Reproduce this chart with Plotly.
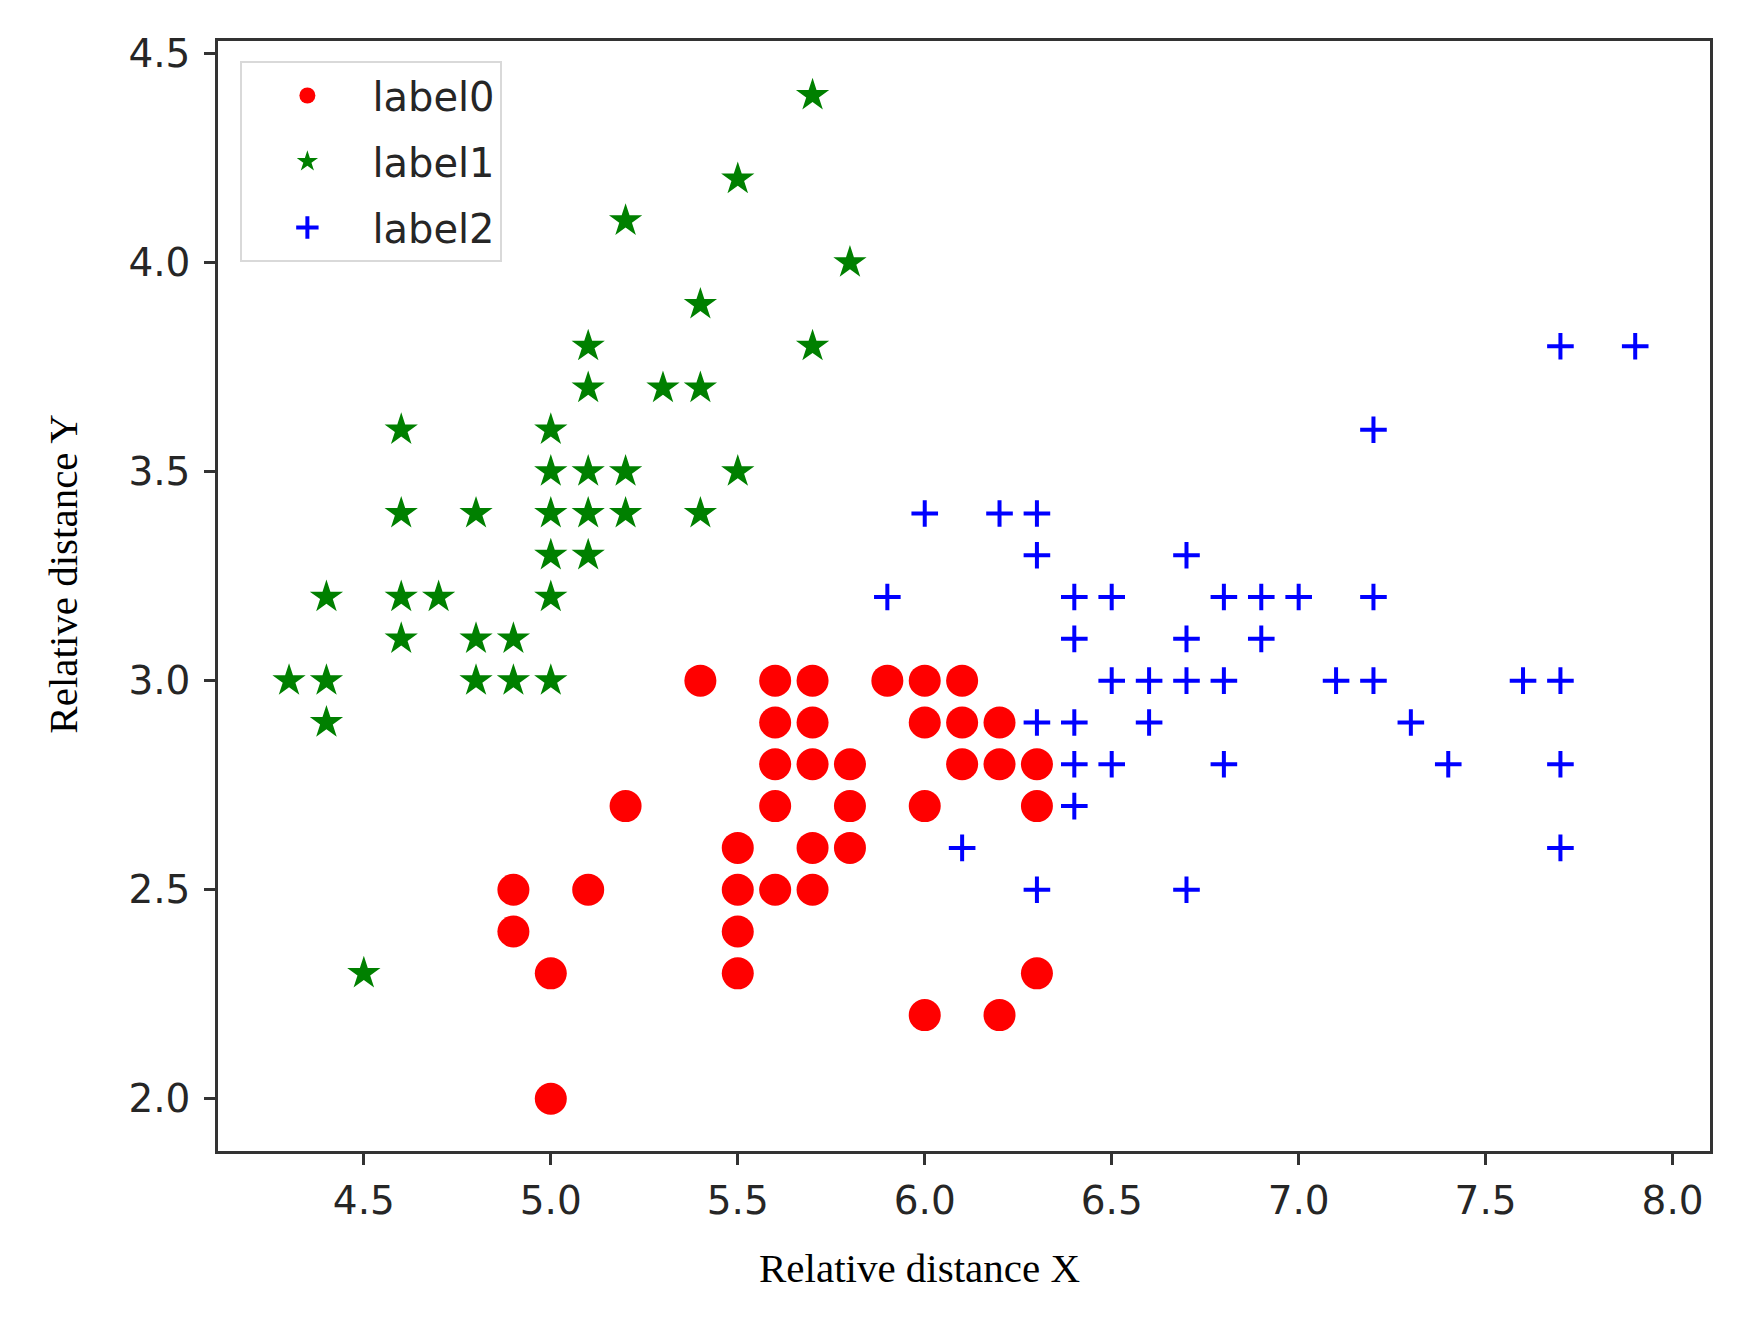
import plotly.graph_objects as go

# label0 (red circles)
x0 = [5.4, 5.6, 5.7, 5.9, 6.0, 6.1,
      5.6, 5.7, 6.0, 6.1, 6.2,
      5.6, 5.7, 5.8, 6.1, 6.2, 6.3,
      5.2, 5.6, 5.8, 6.0, 6.3,
      5.5, 5.7, 5.8,
      4.9, 5.1, 5.5, 5.6, 5.7,
      4.9, 5.5,
      5.0, 5.5, 6.3,
      6.0, 6.2,
      5.0]
y0 = [3.0, 3.0, 3.0, 3.0, 3.0, 3.0,
      2.9, 2.9, 2.9, 2.9, 2.9,
      2.8, 2.8, 2.8, 2.8, 2.8, 2.8,
      2.7, 2.7, 2.7, 2.7, 2.7,
      2.6, 2.6, 2.6,
      2.5, 2.5, 2.5, 2.5, 2.5,
      2.4, 2.4,
      2.3, 2.3, 2.3,
      2.2, 2.2,
      2.0]

# label1 (green stars)
x1 = [5.7, 5.5, 5.2, 5.8, 5.4,
      5.1, 5.7,
      5.1, 5.3, 5.4,
      4.6, 5.0,
      5.0, 5.1, 5.2, 5.5,
      4.6, 4.8, 5.0, 5.1, 5.2, 5.4,
      5.0, 5.1,
      4.4, 4.6, 4.7, 5.0,
      4.6, 4.8, 4.9,
      4.3, 4.4, 4.8, 4.9, 5.0,
      4.4,
      4.5]
y1 = [4.4, 4.2, 4.1, 4.0, 3.9,
      3.8, 3.8,
      3.7, 3.7, 3.7,
      3.6, 3.6,
      3.5, 3.5, 3.5, 3.5,
      3.4, 3.4, 3.4, 3.4, 3.4, 3.4,
      3.3, 3.3,
      3.2, 3.2, 3.2, 3.2,
      3.1, 3.1, 3.1,
      3.0, 3.0, 3.0, 3.0, 3.0,
      2.9,
      2.3]

# label2 (blue plus)
x2 = [7.7, 7.9,
      7.2,
      6.0, 6.2, 6.3,
      6.3, 6.7,
      5.9, 6.4, 6.5, 6.8, 6.9, 7.0, 7.2,
      6.4, 6.7, 6.9,
      6.5, 6.6, 6.7, 6.8, 7.1, 7.2, 7.6, 7.7,
      6.3, 6.4, 6.6, 7.3,
      6.4, 6.5, 6.8, 7.4, 7.7,
      6.4,
      6.1, 7.7,
      6.3, 6.7]
y2 = [3.8, 3.8,
      3.6,
      3.4, 3.4, 3.4,
      3.3, 3.3,
      3.2, 3.2, 3.2, 3.2, 3.2, 3.2, 3.2,
      3.1, 3.1, 3.1,
      3.0, 3.0, 3.0, 3.0, 3.0, 3.0, 3.0, 3.0,
      2.9, 2.9, 2.9, 2.9,
      2.8, 2.8, 2.8, 2.8, 2.8,
      2.7,
      2.6, 2.6,
      2.5, 2.5]

x_ticks = [4.5, 5.0, 5.5, 6.0, 6.5, 7.0, 7.5, 8.0]
y_ticks = [2.0, 2.5, 3.0, 3.5, 4.0, 4.5]

fig = go.Figure()
fig.add_trace(go.Scatter(x=x0, y=y0, mode='markers', name='label0', legendgroup='a',
                         marker=dict(symbol='circle', size=32, color='#ff0000',
                                     line=dict(width=0))))
fig.add_trace(go.Scatter(x=x1, y=y1, mode='markers', name='label1', legendgroup='b',
                         marker=dict(symbol='star', size=25, color='#008000',
                                     line=dict(width=0))))
fig.add_trace(go.Scatter(x=x2, y=y2, mode='markers', name='label2', legendgroup='c',
                         marker=dict(symbol='cross-thin', size=19, color='#0000ff',
                                     line=dict(width=4, color='#0000ff'))))

axis_style = dict(showgrid=False, zeroline=False, showline=True, linecolor='#333333',
                  linewidth=2.5, mirror=True, ticks='outside', ticklen=11, tickwidth=2.5,
                  tickcolor='#333333',
                  tickfont=dict(family='DejaVu Sans', size=39, color='#262626'))

fig.update_xaxes(range=[4.11, 8.10], tickvals=x_ticks, ticklabelstandoff=2,
                 ticktext=[f'{v:.1f}' for v in x_ticks], **axis_style)
fig.update_yaxes(range=[1.875, 4.53], tickvals=y_ticks, ticklabelstandoff=6,
                 ticktext=[f'{v:.1f}' for v in y_ticks], **axis_style)

title_font = dict(family='Liberation Serif', size=41, color='black')
fig.add_annotation(text='Relative distance X', xref='paper', yref='paper',
                   x=0.47, y=-0.105, xanchor='center', yanchor='middle',
                   showarrow=False, font=title_font)
fig.add_annotation(text='Relative distance Y', xref='paper', yref='paper',
                   x=-0.104, y=0.52, xanchor='center', yanchor='middle',
                   textangle=-90, showarrow=False, font=title_font)

fig.update_layout(
    width=1750, height=1323,
    margin=dict(l=210, r=48, t=33, b=180),
    plot_bgcolor='white', paper_bgcolor='white',
    showlegend=True,
    legend=dict(x=0.015, y=0.982, xanchor='left', yanchor='top',
                bgcolor='rgba(255,255,255,0.8)', bordercolor='#d9d9d9', borderwidth=2,
                font=dict(family='DejaVu Sans', size=40, color='#262626'),
                tracegroupgap=11, itemwidth=120),
)

fig.write_html("out.html")
